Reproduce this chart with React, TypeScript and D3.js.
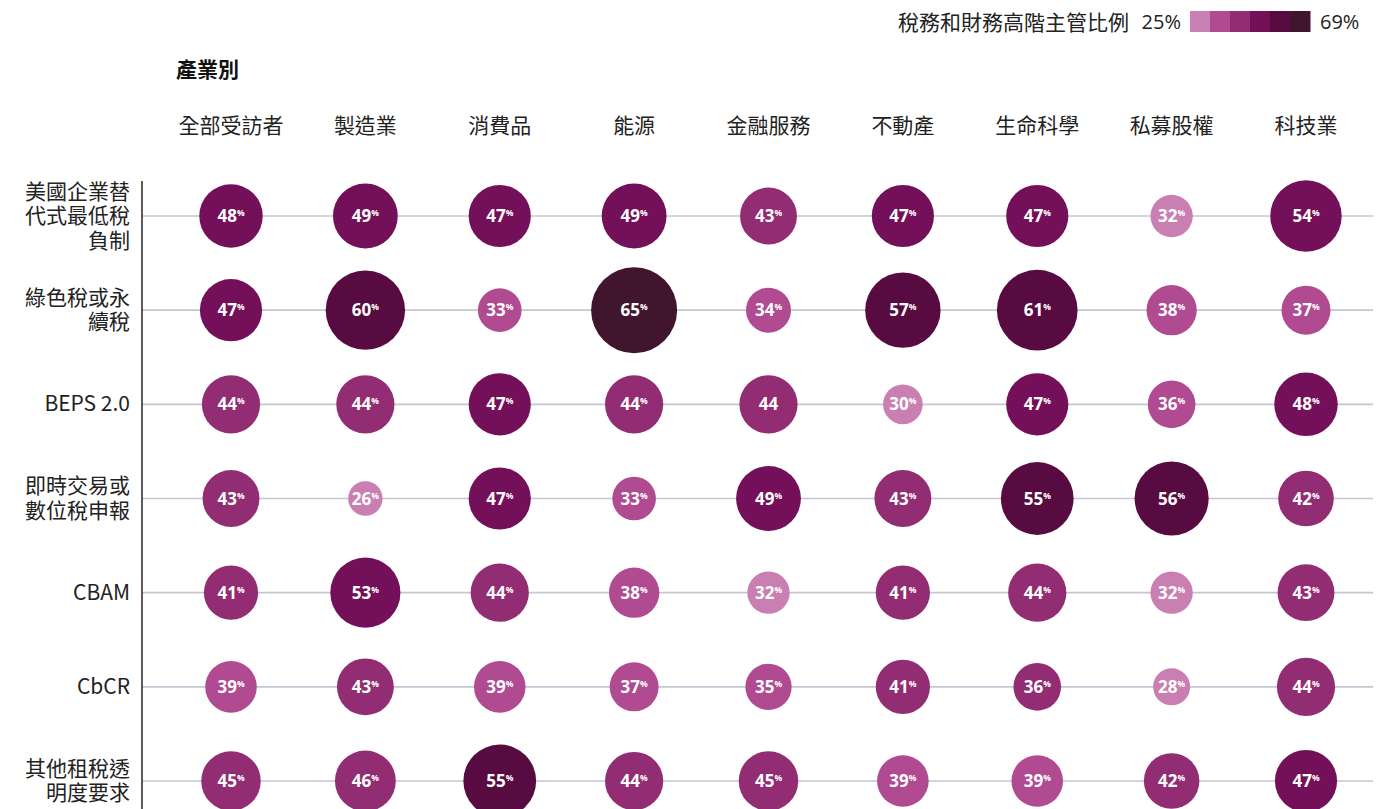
import React, {useEffect, useRef} from "react";
import * as d3 from "d3";

const industries = ["全部受訪者", "製造業", "消費品", "能源", "金融服務", "不動產", "生命科學", "私募股權", "科技業"];

const topics = [
    ["美國企業替", "代式最低稅", "負制"],
    ["綠色稅或永", "續稅"],
    ["BEPS 2.0"],
    ["即時交易或", "數位稅申報"],
    ["CBAM"],
    ["CbCR"],
    ["其他租稅透", "明度要求"],
];

const minTax = [48, 49, 47, 49, 43, 47, 47, 32, 54];
const greenTax = [47, 60, 33, 65, 34, 57, 61, 38, 37];
const beps = [44, 44, 47, 44, 44, 30, 47, 36, 48];
const realTime = [43, 26, 47, 33, 49, 43, 55, 56, 42];
const cbam = [41, 53, 44, 38, 32, 41, 44, 32, 43];
const cbcr = [39, 43, 39, 37, 35, 41, 36, 28, 44];
const otherTransparency = [45, 46, 55, 44, 45, 39, 39, 42, 47];

const values = [minTax, greenTax, beps, realTime, cbam, cbcr, otherTransparency];

// cells printed without the % sign / with a shade not matching their value in the original
const noPercent = ["2-4"];
const shadeOverride: Record<string, number> = {"5-6": 2};

const legendTitle = "稅務和財務高階主管比例";
const legendMin = 25;
const legendMax = 69;
const shades = ["#c97fb1", "#b04a91", "#922d73", "#74105a", "#570b40", "#41152d"];

const W = 1395, H = 809;
const CJK = "'Noto Sans CJK TC', 'Noto Sans', sans-serif";
const NUM = "'Open Sans', 'Noto Sans', sans-serif";

const App = () => {
    const ref = useRef<SVGSVGElement>(null);

    useEffect(() => {
        const svg = d3.select(ref.current);
        svg.selectAll("*").remove();

        const x = d3.scalePoint<string>().domain(industries).range([231, 1306]);
        const y = d3.scalePoint<number>().domain(d3.range(topics.length)).range([216, 781]);
        const r = d3.scaleLinear().domain([0, 65]).range([0, 43]);
        const color = d3.scaleQuantize<string>().domain([legendMin, legendMax]).range(shades);

        // legend
        const lg = svg.append("g").attr("font-family", CJK).attr("font-size", 21).attr("fill", "#222");
        lg.append("text").attr("x", 1129).attr("y", 30).attr("text-anchor", "end").text(legendTitle);
        lg.append("text").attr("x", 1181).attr("y", 29).attr("text-anchor", "end")
            .attr("font-family", NUM).attr("font-size", 20).text(`${legendMin}%`);
        lg.append("text").attr("x", 1320).attr("y", 29)
            .attr("font-family", NUM).attr("font-size", 20).text(`${legendMax}%`);
        const lx = d3.scaleBand<number>().domain(d3.range(shades.length)).range([1190, 1310]);
        lg.selectAll("rect.sw").data(shades).join("rect")
            .attr("class", "sw")
            .attr("x", (_, i) => lx(i)!)
            .attr("y", 11)
            .attr("width", lx.bandwidth() + 0.5)
            .attr("height", 21)
            .attr("fill", d => d);

        // headings
        svg.append("text").attr("x", 176).attr("y", 77)
            .attr("font-family", CJK).attr("font-size", 21).attr("font-weight", 700).attr("fill", "#111")
            .text("產業別");

        svg.append("g").selectAll("text").data(industries).join("text")
            .attr("x", d => x(d)!)
            .attr("y", 133)
            .attr("text-anchor", "middle")
            .attr("font-family", CJK)
            .attr("font-size", 21)
            .attr("fill", "#222")
            .text(d => d);

        // grid lines
        svg.append("g").selectAll("line").data(d3.range(topics.length)).join("line")
            .attr("x1", 142).attr("x2", 1373)
            .attr("y1", d => y(d)!).attr("y2", d => y(d)!)
            .attr("stroke", "#c6c6d3")
            .attr("stroke-width", 1.6);

        // axis line
        svg.append("line").attr("x1", 142).attr("x2", 142).attr("y1", 181).attr("y2", H)
            .attr("stroke", "#333").attr("stroke-width", 1.6);

        // row labels
        const lineH = 24.5;
        const rows = svg.append("g").attr("font-family", CJK).attr("font-size", 21).attr("fill", "#222").attr("text-anchor", "end");
        topics.forEach((lines, i) => {
            const t = rows.append("text").attr("y", y(i)! - (lines.length - 1) * lineH / 2 + 7);
            lines.forEach((l, j) => {
                t.append("tspan").attr("x", 130).attr("dy", j === 0 ? 0 : lineH).text(l);
            });
        });

        // bubbles
        const cells = values.flatMap((row, i) => row.map((v, j) => ({i, j, v, key: `${i}-${j}`})));
        const g = svg.append("g").selectAll("g").data(cells).join("g")
            .attr("transform", d => `translate(${x(industries[d.j])},${y(d.i)})`);

        g.append("circle")
            .attr("r", d => r(d.v))
            .attr("fill", d => shadeOverride[d.key] !== undefined ? shades[shadeOverride[d.key]] : color(d.v));

        const label = g.append("text")
            .attr("y", 6)
            .attr("text-anchor", "middle")
            .attr("font-family", NUM)
            .attr("font-weight", 700)
            .attr("font-size", 17)
            .attr("fill", "#fff");
        label.append("tspan").text(d => d.v);
        label.filter(d => !noPercent.includes(d.key)).append("tspan")
            .attr("font-size", 8.5)
            .attr("dy", -6)
            .text("%");
    }, []);

    return <svg ref={ref} width={W} height={H}
                style={{position: "absolute", left: 0, top: 0, background: "#fff"}}/>;
};

export default App;
